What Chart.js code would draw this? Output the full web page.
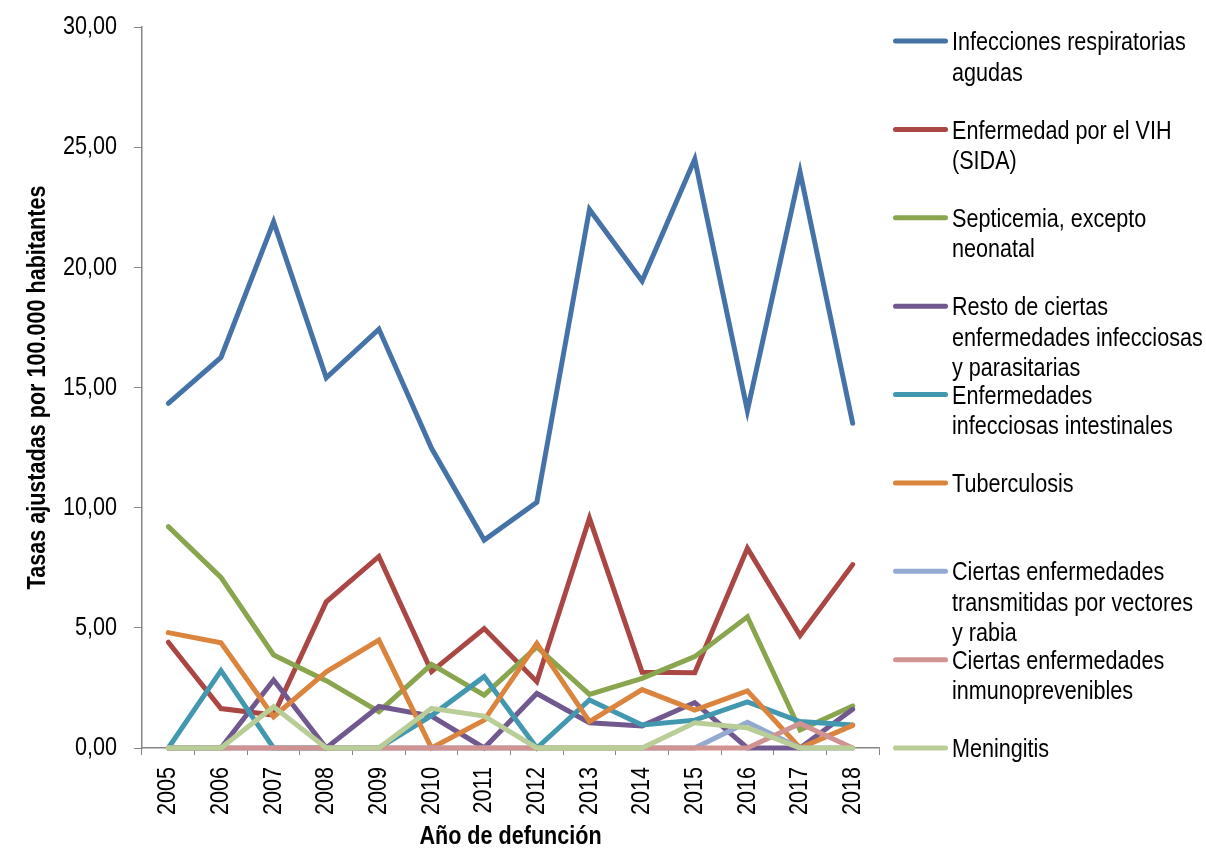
<!DOCTYPE html>
<html>
<head>
<meta charset="utf-8">
<script src="https://cdn.jsdelivr.net/npm/chart.js@4.4.1/dist/chart.umd.min.js"></script>
<style>
  html, body { margin: 0; padding: 0; background: #ffffff; }
  #wrap { width: 1206px; height: 848px; position: relative; }
</style>
</head>
<body>
<div id="wrap"><canvas id="c" width="1206" height="848"></canvas></div>
<script>
// ---- DATA ----
const years = ['2005','2006','2007','2008','2009','2010','2011','2012','2013','2014','2015','2016','2017','2018'];
const yTicks = [0, 5, 10, 15, 20, 25, 30];

const seriesNames = [
  'Infecciones respiratorias agudas',
  'Enfermedad por el VIH (SIDA)',
  'Septicemia, excepto neonatal',
  'Resto de ciertas enfermedades infecciosas y parasitarias',
  'Enfermedades infecciosas intestinales',
  'Tuberculosis',
  'Ciertas enfermedades transmitidas por vectores y rabia',
  'Ciertas enfermedades inmunoprevenibles',
  'Meningitis'
];

const respiratorias  = [14.34, 16.25, 21.89, 15.40, 17.43, 12.47, 8.65, 10.22, 22.41, 19.43, 24.50, 14.04, 23.97, 13.51];
const vih            = [4.40, 1.64, 1.37, 6.08, 7.97, 3.18, 4.97, 2.76, 9.56, 3.15, 3.13, 8.31, 4.68, 7.63];
const septicemia     = [9.21, 7.10, 3.87, 2.80, 1.51, 3.48, 2.20, 4.21, 2.23, 2.90, 3.80, 5.46, 0.75, 1.75];
const restoInfecc    = [0, 0, 2.83, 0, 1.73, 1.33, 0, 2.27, 1.05, 0.92, 1.89, 0, 0, 1.61];
const intestinales   = [0, 3.22, 0, 0, 0, 1.35, 2.97, 0, 2.00, 0.96, 1.16, 1.92, 1.10, 0.96];
const tuberculosis   = [4.80, 4.38, 1.30, 3.17, 4.49, 0, 1.16, 4.35, 1.10, 2.43, 1.58, 2.38, 0, 0.94];
const vectores       = [0, 0, 0, 0, 0, 0, 0, 0, 0, 0, 0, 1.07, 0, 0];
const inmunoprev     = [0, 0, 0, 0, 0, 0, 0, 0, 0, 0, 0, 0, 1.02, 0];
const meningitis     = [0, 0, 1.72, 0, 0, 1.65, 1.33, 0, 0, 0, 1.05, 0.84, 0, 0];

const seriesValues = [respiratorias, vih, septicemia, restoInfecc, intestinales, tuberculosis, vectores, inmunoprev, meningitis];
const seriesColors = ['#4572A7', '#AA4643', '#89A54E', '#71588F', '#4198AF', '#DB843D', '#93A9CF', '#D19392', '#B9CD96'];

// ---- STYLE ----
const FONT = '"Liberation Sans", Arial, sans-serif';
const AXIS_GRAY = '#868686';
const NARROW = 0.83; // horizontal text compression (Arial Narrow look)

const canvas = document.getElementById('c');
const ctx2d = canvas.getContext('2d');
(function narrowText(ctx) {
  const origFill = ctx.fillText.bind(ctx);
  const origMeasure = ctx.measureText.bind(ctx);
  ctx.fillText = function (t, x, y, maxW) {
    ctx.save();
    ctx.translate(x, y);
    ctx.scale(NARROW, 1);
    if (maxW === undefined || maxW === null) origFill(t, 0, 0);
    else origFill(t, 0, 0, maxW / NARROW);
    ctx.restore();
  };
  ctx.measureText = function (t) {
    const m = origMeasure(t);
    return {
      width: m.width * NARROW,
      actualBoundingBoxAscent: m.actualBoundingBoxAscent,
      actualBoundingBoxDescent: m.actualBoundingBoxDescent,
      actualBoundingBoxLeft: m.actualBoundingBoxLeft * NARROW,
      actualBoundingBoxRight: m.actualBoundingBoxRight * NARROW,
      fontBoundingBoxAscent: m.fontBoundingBoxAscent,
      fontBoundingBoxDescent: m.fontBoundingBoxDescent
    };
  };
})(ctx2d);

function wrapText(ctx, text, maxW) {
  const words = text.split(' ');
  const lines = [];
  let cur = '';
  words.forEach(w => {
    const test = cur ? cur + ' ' + w : w;
    if (ctx.measureText(test).width > maxW && cur) { lines.push(cur); cur = w; }
    else cur = test;
  });
  if (cur) lines.push(cur);
  return lines;
}

const sideLegend = {
  id: 'sideLegend',
  afterDraw(chart) {
    const { ctx, chartArea } = chart;
    const ds = chart.data.datasets;
    const x0 = chartArea.right + 14;
    const top = chartArea.top + 14;
    const step = (chartArea.bottom - top) / (ds.length - 1);
    ctx.save();
    ctx.font = '26px ' + FONT;
    ctx.textBaseline = 'middle';
    ctx.textAlign = 'left';
    ds.forEach((d, i) => {
      const y = top + i * step;
      ctx.strokeStyle = d.borderColor;
      ctx.lineWidth = 5;
      ctx.lineCap = 'round';
      ctx.beginPath();
      ctx.moveTo(x0 + 2.5, y);
      ctx.lineTo(x0 + 52.5, y);
      ctx.stroke();
      ctx.fillStyle = '#000000';
      const lines = wrapText(ctx, d.label, 252);
      lines.forEach((l, j) => ctx.fillText(l, x0 + 59, y + 2 + j * 30.5));
    });
    ctx.restore();
  }
};

const datasets = seriesNames.map((name, i) => ({
  label: name,
  data: seriesValues[i],
  borderColor: seriesColors[i],
  backgroundColor: seriesColors[i],
  borderWidth: 5,
  pointRadius: 0,
  pointHoverRadius: 0,
  tension: 0,
  fill: false,
  borderCapStyle: 'round',
  borderJoinStyle: 'miter',
  order: seriesNames.length - i,
  clip: false
}));

new Chart(ctx2d, {
  type: 'line',
  data: { labels: years, datasets },
  options: {
    responsive: false,
    animation: false,
    events: [],
    layout: { padding: { top: 27, right: 327, bottom: 0, left: 0 } },
    plugins: {
      legend: { display: false },
      tooltip: { enabled: false },
      title: { display: false }
    },
    scales: {
      x: {
        type: 'category',
        offset: true,
        afterFit(s) { s.height = 100; },
        grid: { display: true, drawOnChartArea: false, offset: true, tickLength: 7, color: AXIS_GRAY, tickColor: AXIS_GRAY },
        border: { display: true, color: AXIS_GRAY, width: 1.5 },
        ticks: {
          color: '#000000',
          font: { family: FONT, size: 26 },
          minRotation: 90,
          maxRotation: 90,
          padding: 12,
          autoSkip: false
        },
        title: {
          display: true,
          text: 'Año de defunción',
          color: '#000000',
          font: { family: FONT, size: 26, weight: 'bold', lineHeight: 0.85 },
          padding: { top: 0, bottom: 0 }
        }
      },
      y: {
        min: 0,
        max: 30,
        afterFit(s) { s.width = 142; s.paddingTop = 0; s.paddingBottom = 0; },
        afterBuildTicks(s) { s.ticks = yTicks.map(v => ({ value: v })); },
        grid: { display: true, drawOnChartArea: false, tickLength: 8, color: AXIS_GRAY, tickColor: AXIS_GRAY },
        border: { display: true, color: AXIS_GRAY, width: 1.5 },
        ticks: {
          color: '#000000',
          font: { family: FONT, size: 26, lineHeight: 0.8 },
          padding: 17,
          callback: v => Number(v).toFixed(2).replace('.', ',')
        },
        title: {
          display: true,
          text: 'Tasas ajustadas por 100.000 habitantes',
          color: '#000000',
          font: { family: FONT, size: 26, weight: 'bold' },
          padding: { top: 22, bottom: 0 }
        }
      }
    }
  },
  plugins: [sideLegend]
});
</script>
</body>
</html>
